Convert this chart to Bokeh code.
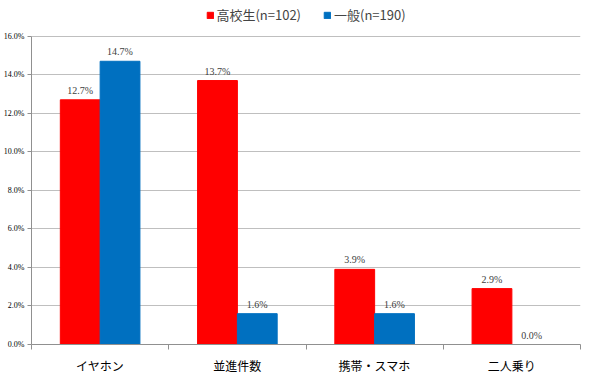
from bokeh.plotting import figure
from bokeh.models import ColumnDataSource, FixedTicker, LabelSet, Legend, LegendItem, NumeralTickFormatter, Range1d
from bokeh.embed import file_html
from bokeh.resources import INLINE

categories = ["イヤホン", "並進件数", "携帯・スマホ", "二人乗り"]
series_names = ["高校生(n=102)", "一般(n=190)"]
highschool = [12.7, 13.7, 3.9, 2.9]
general = [14.7, 1.6, 1.6, 0.0]
colors = ["#FF0000", "#0070C0"]
y_ticks = [0.0, 0.02, 0.04, 0.06, 0.08, 0.10, 0.12, 0.14, 0.16]

bar_w = 0.29
centers = [i + 0.5 for i in range(len(categories))]

def make_src(vals, off):
    return ColumnDataSource(dict(
        x=[c + off for c in centers],
        top=[v / 100 for v in vals],
        label=[f"{v:.1f}%" for v in vals],
    ))

src_h = make_src(highschool, -bar_w / 2)
src_g = make_src(general, bar_w / 2)

p = figure(width=584, height=376, output_backend="svg", toolbar_location=None,
           x_range=Range1d(0, 4), y_range=Range1d(0, 0.1775),
           min_border_left=26, min_border_right=4, min_border_top=2, min_border_bottom=30)
p.outline_line_color = None
p.background_fill_color = "white"
p.border_fill_color = "white"

r1 = p.vbar(x="x", top="top", width=bar_w, source=src_h, color=colors[0])
r2 = p.vbar(x="x", top="top", width=bar_w, source=src_g, color=colors[1])

for src in (src_h, src_g):
    p.add_layout(LabelSet(x="x", y="top", text="label", source=src, y_offset=4,
                          text_align="center", text_baseline="bottom",
                          text_font_size="10px", text_color="#404040",
                          text_font="Liberation Sans"))

# y axis
p.yaxis.ticker = FixedTicker(ticks=y_ticks)
p.yaxis.bounds = (0, 0.16)
p.yaxis.formatter = NumeralTickFormatter(format="0.0%")
p.yaxis.major_label_text_font = "Liberation Serif"
p.yaxis.major_label_text_font_size = "8px"
p.yaxis.major_label_text_color = "#000000"
p.yaxis.axis_line_color = "#909090"
p.yaxis.major_tick_line_color = "#909090"
p.yaxis.major_tick_out = 4
p.yaxis.major_tick_in = 0
p.yaxis.major_label_standoff = 3
p.yaxis.minor_tick_line_color = None
p.ygrid.grid_line_color = "#BFBFBF"
p.xgrid.grid_line_color = None

# x axis
p.xaxis.ticker = FixedTicker(ticks=centers, minor_ticks=list(range(len(categories) + 1)))
p.xaxis.major_label_overrides = {c: cat for c, cat in zip(centers, categories)}
p.xaxis.major_label_text_font = "Noto Sans CJK JP"
p.xaxis.major_label_text_font_size = "12px"
p.xaxis.major_label_text_color = "#000000"
p.xaxis.major_tick_line_color = None
p.xaxis.minor_tick_line_color = "#909090"
p.xaxis.minor_tick_out = 5
p.xaxis.minor_tick_in = 0
p.xaxis.axis_line_color = "#909090"
p.xaxis.major_label_standoff = 6

legend = Legend(items=[LegendItem(label=series_names[0], renderers=[r1]),
                       LegendItem(label=series_names[1], renderers=[r2])],
                orientation="horizontal", location="top_center",
                label_text_font="Noto Sans CJK JP", label_text_font_size="13px",
                glyph_width=8, glyph_height=8, label_standoff=3, spacing=22,
                padding=1, margin=3, border_line_color=None, background_fill_alpha=0)
p.add_layout(legend, "center")

open("out.html", "w").write(file_html(p, INLINE))
